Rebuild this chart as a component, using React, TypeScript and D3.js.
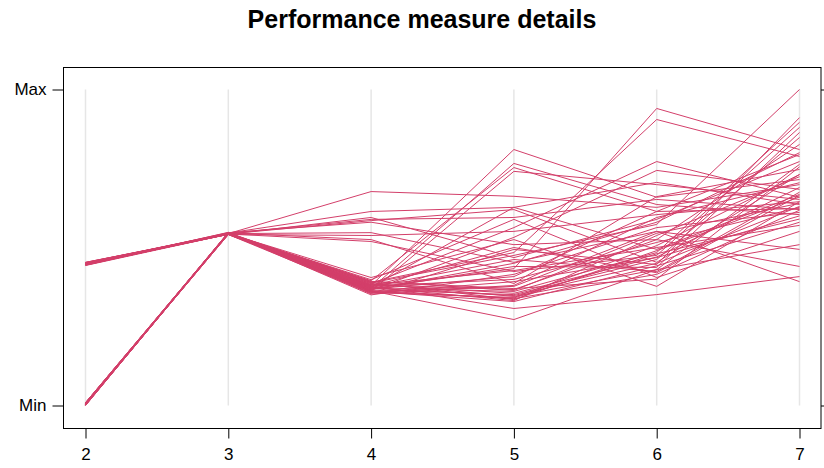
import { useRef, useEffect } from "react";
import * as d3 from "d3";

// Parallel coordinate axes
const AXES = ["2", "3", "4", "5", "6", "7"];

// Values scaled 0 (Min) .. 100 (Max); one row per observation, one column per axis
const AXIS2 = [
  45.0, 0.6, 44.6, 0.2, 45.2, 0.9, 44.4, 0.4, 44.9, 0.1,
  0.7, 45.1, 0.3, 44.5, 0.8, 44.8, 0.0, 45.3, 0.5, 44.3,
  0.2, 45.0, 0.6, 44.7, 0.9, 44.6, 0.1, 45.2, 0.4, 44.9,
  0.3, 44.4, 0.7, 45.1, 0.0, 44.8, 0.5, 44.5, 0.8, 45.0,
  0.2, 44.6, 0.6, 45.3, 0.1, 44.7, 0.4, 44.9, 0.9, 45.1,
];
const AXIS3 = [
  54.4, 54.6, 54.2, 54.5, 54.3, 54.7, 54.4, 54.1, 54.6, 54.3,
  54.5, 54.2, 54.4, 54.8, 54.3, 54.5, 54.6, 54.1, 54.4, 54.2,
  54.7, 54.3, 54.5, 54.4, 54.6, 54.2, 54.3, 54.5, 54.4, 54.7,
  54.1, 54.6, 54.3, 54.4, 54.5, 54.2, 54.8, 54.3, 54.6, 54.4,
  54.5, 54.2, 54.4, 54.3, 54.7, 54.5, 54.1, 54.4, 54.6, 54.3,
];
const AXIS4 = [
  67.7, 61.4, 59.5, 58.9, 58.5, 58.0, 54.7, 53.8, 52.5, 51.9,
  38.0, 37.0, 39.5, 36.2, 37.5, 38.5, 36.5, 35.5, 39.0, 37.2,
  38.8, 36.8, 35.0, 37.8, 36.0, 38.2, 37.3, 36.6, 38.6, 35.8,
  37.9, 36.3, 39.8, 40.5, 37.6, 36.9, 35.3, 38.3, 37.1, 36.4,
  38.9, 37.4, 36.1, 39.2, 35.6, 38.1, 36.7, 37.7, 39.3, 35.9,
];
const AXIS5 = [
  66.2, 62.7, 46.8, 59.5, 62.0, 50.9, 45.3, 55.1, 38.6, 42.4,
  81.0, 76.6, 75.3, 74.1, 62.7, 56.3, 53.2, 49.4, 48.4, 43.3,
  47.5, 44.0, 41.5, 39.9, 37.7, 36.7, 36.1, 35.1, 34.5, 34.2,
  30.7, 27.2, 58.9, 52.5, 46.2, 40.8, 38.0, 35.5, 34.8, 33.8,
  33.5, 33.2, 32.9, 37.0, 39.2, 42.7, 45.0, 50.0, 36.4, 34.0,
];
const AXIS6 = [
  62.7, 49.4, 58.9, 65.2, 45.3, 52.5, 55.1, 60.4, 66.1, 47.5,
  65.9, 63.6, 61.4, 69.9, 70.6, 77.2, 74.4, 44.6, 90.5, 94.0,
  57.3, 43.7, 56.3, 51.6, 55.1, 52.5, 48.4, 46.2, 43.0, 50.6,
  35.1, 43.0, 40.5, 37.7, 42.4, 61.4, 59.5, 47.0, 45.0, 41.5,
  49.0, 53.8, 44.2, 40.0, 46.8, 50.0, 58.0, 42.0, 54.5, 48.0,
];
const AXIS7 = [
  69.9, 66.8, 77.2, 62.0, 73.1, 82.6, 49.4, 64.5, 74.7, 88.0,
  71.5, 60.4, 79.4, 65.2, 63.6, 65.9, 68.4, 91.1, 78.8, 81.0,
  100.0, 86.4, 61.1, 62.7, 39.2, 44.0, 89.6, 84.8, 76.3, 73.1,
  40.8, 50.9, 55.1, 64.5, 67.5, 62.3, 70.5, 69.0, 63.0, 61.8,
  66.0, 72.4, 58.0, 75.5, 60.0, 57.0, 80.0, 66.5, 64.0, 59.0,
];

const Y_TICKS = [0, 100];
const Y_LABELS = ["Min", "Max"];

export default function App() {
  const svgRef = useRef<SVGSVGElement>(null);

  const width = 824;
  const height = 468;
  const box = { left: 63.5, right: 821, top: 67.5, bottom: 428.5 };

  useEffect(() => {
    if (!svgRef.current) return;
    const svg = d3.select(svgRef.current);
    svg.selectAll("*").remove();

    const columns = [AXIS2, AXIS3, AXIS4, AXIS5, AXIS6, AXIS7];
    const rows = AXIS2.map((_, i) => columns.map((c) => c[i]));

    const x = d3.scalePoint<string>().domain(AXES).range([85.5, 799.5]);
    const y = d3.scaleLinear().domain([0, 100]).range([405.5, 89.5]);

    const font = "Liberation Sans, Arial, sans-serif";

    svg
      .append("text")
      .attr("x", 422)
      .attr("y", 28)
      .attr("text-anchor", "middle")
      .attr("font-family", font)
      .attr("font-weight", "bold")
      .attr("font-size", 25)
      .text("Performance measure details");

    // reference lines at each axis
    svg
      .append("g")
      .selectAll("line")
      .data(AXES)
      .join("line")
      .attr("x1", (d) => x(d)!)
      .attr("x2", (d) => x(d)!)
      .attr("y1", y(100))
      .attr("y2", y(0))
      .attr("stroke", "#e6e6e6")
      .attr("stroke-width", 1.5);

    const line = d3
      .line<number>()
      .x((_, i) => x(AXES[i])!)
      .y((d) => y(d));

    svg
      .append("g")
      .selectAll("path")
      .data(rows)
      .join("path")
      .attr("d", (d) => line(d))
      .attr("fill", "none")
      .attr("stroke", "#D33F6A")
      .attr("stroke-width", 1);

    // panel box
    svg
      .append("rect")
      .attr("x", box.left)
      .attr("y", box.top)
      .attr("width", box.right - box.left)
      .attr("height", box.bottom - box.top)
      .attr("fill", "none")
      .attr("stroke", "#000")
      .attr("stroke-width", 1);

    // left axis
    svg
      .append("g")
      .attr("transform", `translate(${box.left},0)`)
      .call(
        d3
          .axisLeft(y)
          .tickValues(Y_TICKS)
          .tickSize(11)
          .tickPadding(6)
          .tickFormat((_, i) => Y_LABELS[i])
      )
      .call((a) => {
        a.select(".domain").remove();
        a.selectAll(".tick line").attr("stroke", "#000");
        a.selectAll(".tick text").attr("font-family", font).attr("font-size", 17).attr("fill", "#000");
      });

    // right ticks
    svg
      .append("g")
      .attr("transform", `translate(${box.right},0)`)
      .call(d3.axisRight(y).tickValues(Y_TICKS).tickSize(11).tickFormat(() => ""))
      .call((a) => {
        a.select(".domain").remove();
        a.selectAll(".tick line").attr("stroke", "#000");
      });

    // bottom axis
    svg
      .append("g")
      .attr("transform", `translate(0,${box.bottom})`)
      .call(d3.axisBottom(x).tickSize(10).tickPadding(9))
      .call((a) => {
        a.select(".domain").remove();
        a.selectAll(".tick line").attr("stroke", "#000");
        a.selectAll(".tick text").attr("font-family", font).attr("font-size", 17).attr("fill", "#000");
      });
  }, []);

  return (
    <svg
      ref={svgRef}
      width={width}
      height={height}
      style={{ position: "absolute", left: 0, top: 0, display: "block", background: "#fff" }}
    />
  );
}
